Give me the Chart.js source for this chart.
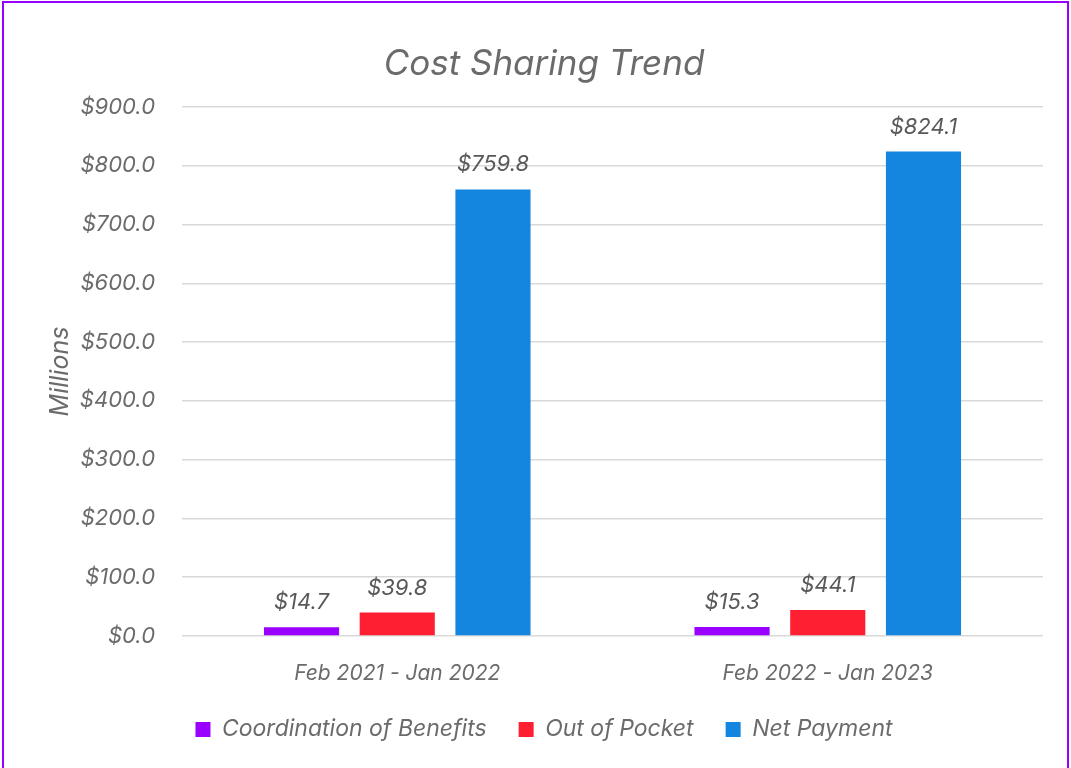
<!DOCTYPE html>
<html>
<head>
<meta charset="utf-8">
<script src="https://cdn.jsdelivr.net/npm/chart.js@4"></script>
<style>
  html, body { margin: 0; padding: 0; background: #fff; overflow: hidden; }
  #wrap { position: relative; width: 1071px; height: 768px; }
  #frame {
    position: absolute; left: 2px; top: 1px; width: 1063px; height: 800px;
    border: 2px solid #9900ff; pointer-events: none;
  }
</style>
</head>
<body>
<div id="wrap">
  <canvas id="costChart" width="1071" height="768"></canvas>
  <div id="frame"></div>
</div>
<script>
const periods = ['Feb 2021 - Jan 2022', 'Feb 2022 - Jan 2023'];
const coordinationOfBenefits = [14.7, 15.3];
const outOfPocket = [39.8, 44.1];
const netPayment = [759.8, 824.1];

const textGray = '#6b6b6b';
const fontFamily = 'Inter, "Liberation Sans", sans-serif';

// draws the "$xx.x" labels over each bar
const valueLabels = {
  id: 'valueLabels',
  afterDatasetsDraw(chart) {
    const ctx = chart.ctx;
    ctx.save();
    ctx.font = 'italic 22px ' + fontFamily;
    ctx.fillStyle = '#595959';
    ctx.textAlign = 'center';
    ctx.textBaseline = 'alphabetic';
    chart.data.datasets.forEach((ds, i) => {
      chart.getDatasetMeta(i).data.forEach((bar, j) => {
        ctx.fillText('$' + ds.data[j].toFixed(1), bar.x, bar.y - 18);
      });
    });
    ctx.restore();
  }
};

const ctx = document.getElementById('costChart').getContext('2d');
new Chart(ctx, {
  type: 'bar',
  data: {
    labels: periods,
    datasets: [
      { label: 'Coordination of Benefits', data: coordinationOfBenefits, backgroundColor: '#9a00ff' },
      { label: 'Out of Pocket', data: outOfPocket, backgroundColor: '#ff1f33' },
      { label: 'Net Payment', data: netPayment, backgroundColor: '#1486e0' }
    ]
  },
  options: {
    responsive: false,
    animation: false,
    categoryPercentage: 0.667,
    barPercentage: 0.785,
    layout: { padding: { left: 45, right: 28, top: 0, bottom: 17 } },
    plugins: {
      title: {
        display: true,
        text: 'Cost Sharing Trend',
        color: textGray,
        font: { family: fontFamily, size: 35, style: 'italic', weight: 'normal' },
        padding: { top: 43, bottom: 22 }
      },
      legend: {
        position: 'bottom',
        labels: {
          boxWidth: 15,
          boxHeight: 15,
          padding: 32,
          color: textGray,
          font: { family: fontFamily, size: 23, style: 'italic' }
        }
      },
      tooltip: { enabled: false }
    },
    scales: {
      x: {
        grid: { display: false },
        border: { display: false },
        ticks: {
          color: textGray,
          padding: 17,
          font: { family: fontFamily, size: 21, style: 'italic' }
        },
        afterFit(scale) { scale.height = 50; }
      },
      y: {
        min: 0,
        max: 900,
        border: { display: false },
        grid: { color: '#d9d9d9', lineWidth: 1.5, drawTicks: false },
        ticks: {
          stepSize: 100,
          color: textGray,
          padding: 27,
          font: { family: fontFamily, size: 22, style: 'italic' },
          callback: v => '$' + v.toFixed(1)
        },
        title: {
          display: true,
          text: 'Millions',
          color: textGray,
          padding: 0,
          font: { family: fontFamily, size: 25, style: 'italic' }
        },
        afterFit(scale) { scale.width = 137; }
      }
    }
  },
  plugins: [valueLabels]
});
</script>
</body>
</html>
